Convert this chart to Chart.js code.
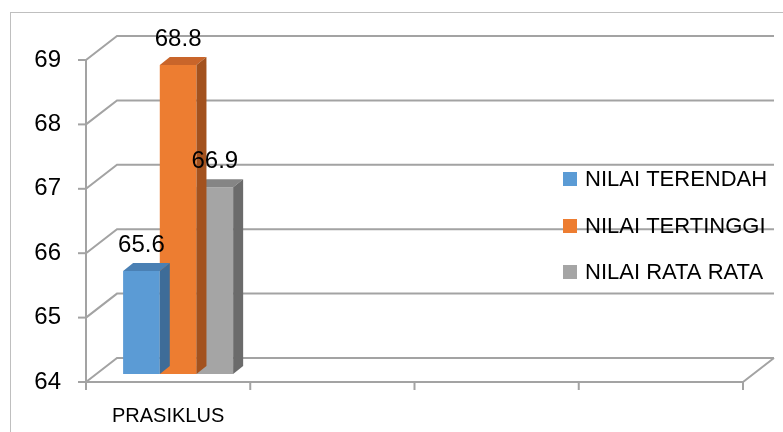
<!DOCTYPE html>
<html>
<head>
<meta charset="utf-8">
<script src="https://cdn.jsdelivr.net/npm/chart.js@4/dist/chart.umd.min.js"></script>
<style>
html,body{margin:0;padding:0;background:#fff;}
#wrap{position:relative;width:783px;height:432px;}
</style>
</head>
<body>
<div id="wrap"><canvas id="c" width="783" height="432"></canvas></div>
<script>
const categories = ['PRASIKLUS', '', '', ''];
const seriesNames = ['NILAI TERENDAH', 'NILAI TERTINGGI', 'NILAI RATA RATA'];
const nilaiTerendah = [65.6, null, null, null];
const nilaiTertinggi = [68.8, null, null, null];
const nilaiRataRata = [66.9, null, null, null];
const yMin = 64, yMax = 69, yStep = 1;

const frontColors = ['#5B9BD5', '#ED7D31', '#A5A5A5'];
const topColors = ['#4A80B4', '#C9652A', '#858585'];
const sideColors = ['#3E6C98', '#A3521E', '#6B6B6B'];

const FONT = '"Liberation Sans", Arial, sans-serif';
const WALL = {dx: 31, dy: -24};
const BAR = {dx: 10, dy: -8};
const LINE = '#A3A3A3';

const threeD = {
  id: 'threeD',
  beforeDatasetsDraw(chart) {
    const ctx = chart.ctx, y = chart.scales.y, a = chart.chartArea;
    ctx.save();
    ctx.strokeStyle = '#BFBFBF'; ctx.lineWidth = 1;
    ctx.strokeRect(10.5, 12.5, 900, 600);
    ctx.strokeStyle = LINE; ctx.lineWidth = 2; ctx.lineCap = 'butt';
    const backRight = a.right + WALL.dx;
    y.ticks.forEach(t => {
      const py = y.getPixelForValue(t.value);
      ctx.beginPath();
      ctx.moveTo(a.left, py); ctx.lineTo(a.left + WALL.dx, py + WALL.dy);
      ctx.lineTo(backRight, py + WALL.dy);
      ctx.stroke();
      ctx.beginPath(); ctx.moveTo(a.left - 8, py); ctx.lineTo(a.left, py); ctx.stroke();
    });
    ctx.beginPath(); ctx.moveTo(a.left, y.getPixelForValue(yMax) - 1); ctx.lineTo(a.left, a.bottom + 1); ctx.stroke();
    ctx.beginPath();
    ctx.moveTo(a.left, a.bottom); ctx.lineTo(a.right, a.bottom);
    ctx.lineTo(backRight, a.bottom + WALL.dy);
    ctx.stroke();
    const n = categories.length, w = (a.right - a.left) / n;
    for (let i = 0; i <= n; i++) {
      const px = a.left + i * w;
      ctx.beginPath(); ctx.moveTo(px, a.bottom); ctx.lineTo(px, a.bottom + 8); ctx.stroke();
    }
    ctx.restore();
    ctx.save();
    ctx.translate(BAR.dx, BAR.dy);
  },
  afterDatasetDraw(chart, args) {
    const ctx = chart.ctx, i = args.index;
    const meta = chart.getDatasetMeta(i);
    meta.data.forEach((el, j) => {
      const v = chart.data.datasets[i].data[j];
      if (v === null || v === undefined) return;
      const p = el.getProps(['x', 'y', 'base', 'width'], true);
      const x0 = p.x - p.width / 2, x1 = p.x + p.width / 2;
      ctx.fillStyle = topColors[i];
      ctx.beginPath();
      ctx.moveTo(x0, p.y); ctx.lineTo(x1, p.y); ctx.lineTo(x1 + BAR.dx, p.y + BAR.dy); ctx.lineTo(x0 + BAR.dx, p.y + BAR.dy);
      ctx.closePath(); ctx.fill();
      ctx.fillStyle = sideColors[i];
      ctx.beginPath();
      ctx.moveTo(x1, p.y); ctx.lineTo(x1 + BAR.dx, p.y + BAR.dy); ctx.lineTo(x1 + BAR.dx, p.base + BAR.dy); ctx.lineTo(x1, p.base);
      ctx.closePath(); ctx.fill();
    });
  },
  afterDatasetsDraw(chart) {
    const ctx = chart.ctx;
    ctx.font = '24px ' + FONT;
    ctx.fillStyle = '#000';
    ctx.textAlign = 'center';
    ctx.textBaseline = 'alphabetic';
    chart.data.datasets.forEach((ds, i) => {
      chart.getDatasetMeta(i).data.forEach((el, j) => {
        const v = ds.data[j];
        if (v === null || v === undefined) return;
        const p = el.getProps(['x', 'y'], true);
        ctx.fillText(v.toFixed(1), p.x, p.y - 19);
      });
    });
    ctx.restore();
    ctx.save();
    ctx.font = '22px ' + FONT;
    ctx.textAlign = 'left';
    ctx.textBaseline = 'middle';
    const ly = [179, 226, 272];
    seriesNames.forEach((name, i) => {
      ctx.fillStyle = frontColors[i];
      ctx.fillRect(563, ly[i] - 7, 14, 14);
      ctx.fillStyle = '#000';
      ctx.fillText(name, 585, ly[i] + 1);
    });
    ctx.restore();
  }
};

new Chart(document.getElementById('c'), {
  type: 'bar',
  data: {
    labels: categories,
    datasets: [
      {label: seriesNames[0], data: nilaiTerendah, backgroundColor: frontColors[0], clip: false, base: yMin},
      {label: seriesNames[1], data: nilaiTertinggi, backgroundColor: frontColors[1], clip: false, base: yMin},
      {label: seriesNames[2], data: nilaiRataRata, backgroundColor: frontColors[2], clip: false, base: yMin}
    ]
  },
  options: {
    responsive: false,
    animation: false,
    layout: {padding: {top: 60, right: 40, left: 0, bottom: 0}},
    datasets: {bar: {categoryPercentage: 0.67, barPercentage: 1.0}},
    plugins: {legend: {display: false}, tooltip: {enabled: false}},
    scales: {
      x: {
        grid: {display: false, drawTicks: false},
        border: {display: false},
        ticks: {font: {size: 20, family: FONT}, color: '#000', padding: 22, maxRotation: 0, autoSkip: false},
        afterFit: s => { s.height = 50; }
      },
      y: {
        min: yMin, max: yMax,
        grid: {display: false, drawTicks: false},
        border: {display: false},
        ticks: {stepSize: yStep, font: {size: 24, family: FONT}, color: '#000', padding: 25},
        afterFit: s => { s.width = 86; }
      }
    }
  },
  plugins: [threeD]
});
</script>
</body>
</html>
